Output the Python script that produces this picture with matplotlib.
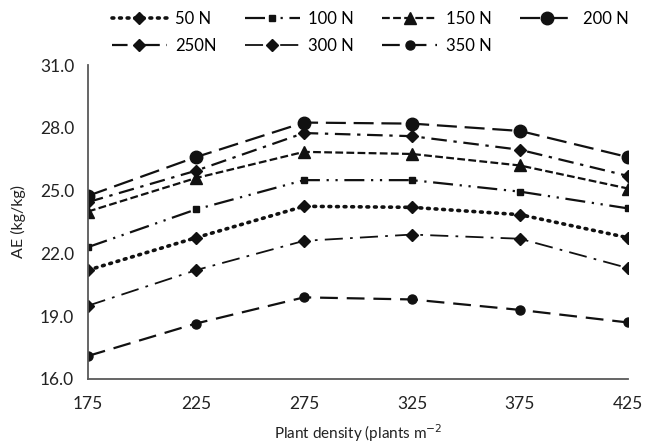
import numpy as np
import matplotlib.pyplot as plt

plt.rcParams['font.family'] = ['Lato', 'DejaVu Sans']

density = [175, 225, 275, 325, 375, 425]

ae_50 = [21.2, 22.75, 24.25, 24.2, 23.85, 22.75]
ae_100 = [22.3, 24.1, 25.5, 25.5, 24.95, 24.15]
ae_150 = [24.0, 25.6, 26.85, 26.75, 26.2, 25.1]
ae_200 = [24.75, 26.6, 28.25, 28.2, 27.85, 26.6]
ae_250 = [24.45, 25.95, 27.75, 27.6, 26.95, 25.7]
ae_300 = [19.5, 21.2, 22.6, 22.9, 22.7, 21.3]
ae_350 = [17.1, 18.65, 19.9, 19.8, 19.3, 18.7]

labels = ['50 N', '100 N', '150 N', '200 N', '250N', '300 N', '350 N']
yticks = [16.0, 19.0, 22.0, 25.0, 28.0, 31.0]

ink = '#111111'

fig = plt.figure(figsize=(6.45, 4.44), dpi=100)
ax = fig.add_axes([0.1364, 0.1464, 0.8372, 0.7072])

l50, = ax.plot(density, ae_50, color=ink, lw=2.6, linestyle=(0, (0.5, 1.6)),
               dash_capstyle='round', marker='D', ms=6, label=labels[0])
l100, = ax.plot(density, ae_100, color=ink, lw=1.6, linestyle=(0, (9, 3, 1, 3, 1, 3)),
                marker='s', ms=5, label=labels[1])
l150, = ax.plot(density, ae_150, color=ink, lw=1.6, linestyle=(0, (3.5, 1.5)),
                marker='^', ms=8, label=labels[2])
l200, = ax.plot(density, ae_200, color=ink, lw=1.6, linestyle=(0, (9, 3.5)),
                marker='o', ms=9, label=labels[3])
l250, = ax.plot(density, ae_250, color=ink, lw=1.6, linestyle=(0, (7, 3, 1.5, 3)),
                marker='D', ms=6, label=labels[4])
l300, = ax.plot(density, ae_300, color=ink, lw=1.3, linestyle=(0, (10, 4, 1.5, 4)),
                marker='D', ms=6, label=labels[5])
l350, = ax.plot(density, ae_350, color=ink, lw=1.6, linestyle=(0, (8, 4)),
                marker='o', ms=6.5, label=labels[6])

ax.set_xlim(175, 425)
ax.set_ylim(16, 31)
ax.set_xticks(density)
ax.set_yticks(yticks)
ax.set_yticklabels(['%.1f' % v for v in yticks])
ax.tick_params(length=0, labelsize=12.5, colors='#222222', pad=10)
ax.tick_params(axis='x', pad=12)

for s in ['top', 'right']:
    ax.spines[s].set_visible(False)
for s in ['left', 'bottom']:
    ax.spines[s].set_color('#595959')
    ax.spines[s].set_linewidth(1.3)

for lab in ax.get_xticklabels() + ax.get_yticklabels():
    lab.set_clip_on(False)

ax.set_xlabel('Plant density (plants m$^{-2}$', fontsize=11, color='#222222', labelpad=8)
ax.set_ylabel('AE (kg/kg)', fontsize=11.5, color='#222222', labelpad=10)

# legend fills column-wise, so order handles to read row-wise
order = [l50, l250, l100, l300, l150, l350, l200]
fig.legend(handles=order, loc='upper left', bbox_to_anchor=(0.15, 1.01), ncol=4,
           frameon=False, fontsize=12, handlelength=3.3, columnspacing=1.7,
           handletextpad=0.5, labelspacing=0.7)

fig.savefig('out.png', dpi=100)
